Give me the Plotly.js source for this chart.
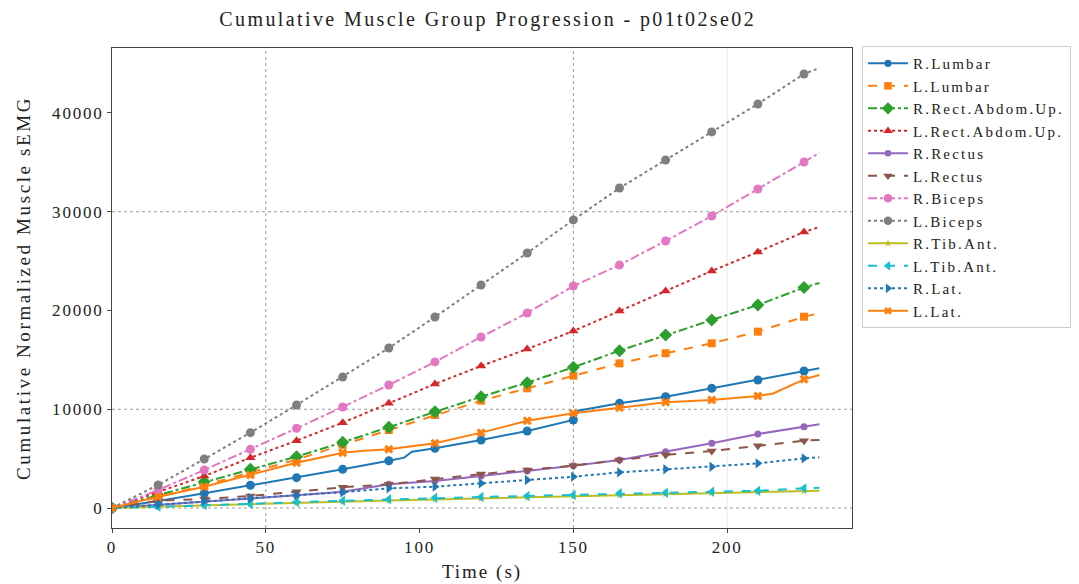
<!DOCTYPE html>
<html>
<head>
<meta charset="utf-8">
<script src="https://cdn.plot.ly/plotly-3.0.1.min.js"></script>
<style>
html,body{margin:0;padding:0;background:#fff;}
#chart{width:1079px;height:584px;}
.gtitle{letter-spacing:2.4px;}
.ytitle{letter-spacing:2.6px;}
.xtitle{letter-spacing:2px;}
.xtick text,.ytick text{letter-spacing:1.8px;}
.legendtext{letter-spacing:2.2px;}
</style>
</head>
<body>
<div id="chart"></div>
<script>
// Time points (s); markers every 15 s
const timeStd = [0, 15, 30, 45, 60, 75, 90, 105, 120, 135, 150, 165, 180, 195, 210, 225, 230];

const seriesNames = ["R.Lumbar", "L.Lumbar", "R.Rect.Abdom.Up.", "L.Rect.Abdom.Up.", "R.Rectus", "L.Rectus",
  "R.Biceps", "L.Biceps", "R.Tib.Ant.", "L.Tib.Ant.", "R.Lat.", "L.Lat."];

// R.Lumbar has extra points for its steps near 96 s and 150 s
const timeRLumbar = [0, 15, 30, 45, 60, 75, 90, 95, 97.5, 105, 120, 135, 150, 151.5, 165, 180, 195, 210, 225, 230];
const rLumbar = [0, 700, 1490, 2300, 3070, 3920, 4790, 5100, 5700, 6040, 6890, 7800, 8910, 9850, 10600, 11270, 12120, 12960, 13870, 14150];

const lLumbar = [0, 1100, 2300, 3600, 4900, 6400, 7900, 9420, 10870, 12120, 13400, 14650, 15670, 16680, 17860, 19370, 19720];
const rRectAbdomUp = [0, 1300, 2660, 3920, 5200, 6650, 8170, 9750, 11270, 12690, 14250, 15930, 17520, 19040, 20560, 22320, 22790];
const lRectAbdomUp = [0, 1620, 3240, 5090, 6820, 8640, 10600, 12560, 14380, 16100, 17920, 19950, 21980, 24000, 25930, 27950, 28460];
const rRectus = [0, 300, 600, 950, 1300, 1650, 2400, 2730, 3240, 3750, 4290, 4860, 5700, 6550, 7490, 8230, 8470];
const lRectus = [0, 740, 910, 1220, 1650, 2100, 2400, 2940, 3440, 3850, 4290, 4860, 5370, 5770, 6310, 6820, 6890];
const rBiceps = [0, 1820, 3850, 5940, 8070, 10230, 12460, 14790, 17320, 19750, 22480, 24610, 27040, 29570, 32300, 35040, 35950];
const lBiceps = [0, 2330, 4960, 7630, 10430, 13270, 16200, 19340, 22580, 25820, 29170, 32400, 35240, 38080, 40910, 43950, 44560];
const rTibAnt = [0, 140, 270, 400, 520, 640, 760, 860, 960, 1070, 1180, 1300, 1420, 1520, 1620, 1720, 1750];
const lTibAnt = [0, 130, 300, 410, 600, 740, 880, 1040, 1110, 1220, 1320, 1490, 1550, 1650, 1750, 1990, 2050];
const rLat = [0, 350, 700, 980, 1300, 1590, 1990, 2160, 2500, 2840, 3170, 3610, 3920, 4180, 4520, 5030, 5130];

// L.Lat has extra points where it bends
const timeLLat = [0, 15, 30, 45, 60, 75, 82, 90, 105, 120, 135, 150, 165, 180, 195, 210, 215, 225, 230];
const lLat = [0, 1150, 2160, 3340, 4590, 5600, 5800, 5940, 6550, 7630, 8840, 9590, 10160, 10700, 10940, 11340, 11600, 13030, 13470];

const markerTimes = [0, 15, 30, 45, 60, 75, 90, 105, 120, 135, 150, 165, 180, 195, 210, 225];

const xTicks = [0, 50, 100, 150, 200];
const yTicks = [0, 10000, 20000, 30000, 40000];

const colors = ["#1f77b4", "#ff7f0e", "#2ca02c", "#d62728", "#9467bd", "#8c564b", "#e377c2", "#7f7f7f", "#bcbd22", "#17becf", "#1f77b4", "#ff7f0e"];
const dashes = ["solid", "dash", "dashdot", "dot", "solid", "dash", "dashdot", "dot", "solid", "dash", "dot", "solid"];
const symbols = ["circle", "square", "diamond", "triangle-up", "circle", "triangle-down", "circle", "circle", "star", "triangle-left", "triangle-right", "x"];
const mSizes = [9, 8, 10, 9, 7, 9, 9, 9, 6, 9, 9, 8];

const xs = [timeRLumbar, timeStd, timeStd, timeStd, timeStd, timeStd, timeStd, timeStd, timeStd, timeStd, timeStd, timeLLat];
const ys = [rLumbar, lLumbar, rRectAbdomUp, lRectAbdomUp, rRectus, lRectus, rBiceps, lBiceps, rTibAnt, lTibAnt, rLat, lLat];

const traces = seriesNames.map((name, i) => ({
  type: "scatter",
  mode: "lines+markers",
  name: name,
  x: xs[i],
  y: ys[i],
  line: {color: colors[i], width: 2, dash: dashes[i]},
  marker: {
    color: colors[i],
    symbol: symbols[i],
    opacity: 1,
    size: xs[i].map(t => markerTimes.includes(t) ? mSizes[i] : 0),
    line: {width: 0}
  }
}));

const gridDark = "#9a9a9a";
const shapes = [];
[50, 150].forEach(v => shapes.push({type: "line", xref: "x", yref: "paper", x0: v, x1: v, y0: 0, y1: 1, line: {color: gridDark, width: 1, dash: "dot"}, layer: "below"}));
shapes.push({type: "line", xref: "x", yref: "paper", x0: 200, x1: 200, y0: 0, y1: 1, line: {color: "#e8e8e8", width: 1}, layer: "below"});
[0, 10000, 30000].forEach(v => shapes.push({type: "line", xref: "paper", yref: "y", x0: 0, x1: 1, y0: v, y1: v, line: {color: gridDark, width: 1, dash: "dot"}, layer: "below"}));

const font = "Liberation Serif, Times New Roman, serif";

const layout = {
  width: 1079, height: 584,
  paper_bgcolor: "#fff", plot_bgcolor: "#fff",
  margin: {l: 112, r: 227, t: 48, b: 56, autoexpand: false},
  font: {family: font, size: 15, color: "#222"},
  title: {text: "Cumulative Muscle Group Progression - p01t02se02", x: 0.452, xanchor: "center", y: 0.968, yanchor: "middle", font: {family: font, size: 20, color: "#222"}},
  xaxis: {
    range: [0, 240.6], tickvals: xTicks, ticktext: xTicks.map(String),
    showgrid: false, zeroline: false, showline: true, mirror: true, linecolor: "#444", linewidth: 1,
    ticks: "outside", ticklen: 4, tickcolor: "#444",
    tickfont: {family: font, size: 17},
    title: {text: "Time (s)", font: {family: font, size: 19}, standoff: 8}
  },
  yaxis: {
    range: [-2025, 46580], tickvals: yTicks, ticktext: yTicks.map(String),
    showgrid: false, zeroline: false, showline: true, mirror: true, linecolor: "#444", linewidth: 1,
    ticks: "outside", ticklen: 4, tickcolor: "#444",
    tickfont: {family: font, size: 17},
    title: {text: "Cumulative Normalized Muscle sEMG", font: {family: font, size: 19}, standoff: 16}
  },
  shapes: shapes,
  showlegend: true,
  legend: {
    x: 1.0135, xanchor: "left", y: 1.004, yanchor: "top",
    bgcolor: "#fff", bordercolor: "#cccccc", borderwidth: 1,
    font: {family: font, size: 15, color: "#222"},
    tracegroupgap: 0, itemwidth: 40
  }
};

Plotly.newPlot("chart", traces, layout, {staticPlot: true, displayModeBar: false});
</script>
</body>
</html>
